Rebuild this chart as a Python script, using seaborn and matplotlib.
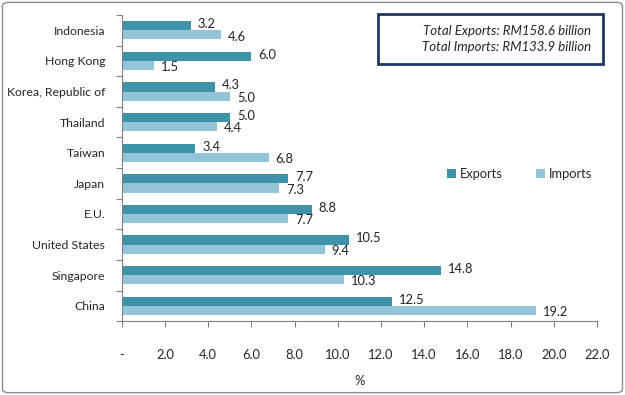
import numpy as np
import pandas as pd
import seaborn as sns
import matplotlib.pyplot as plt
from matplotlib.patches import FancyBboxPatch, Rectangle
from matplotlib.ticker import FixedLocator

countries = ["Indonesia", "Hong Kong", "Korea, Republic of", "Thailand", "Taiwan",
             "Japan", "E.U.", "United States", "Singapore", "China"]
exports = [3.2, 6.0, 4.3, 5.0, 3.4, 7.7, 8.8, 10.5, 14.8, 12.5]
imports = [4.6, 1.5, 5.0, 4.4, 6.8, 7.3, 7.7, 9.4, 10.3, 19.2]
x_ticks = [0, 2, 4, 6, 8, 10, 12, 14, 16, 18, 20, 22]

df = pd.DataFrame({
    "country": countries * 2,
    "share": exports + imports,
    "flow": ["Exports"] * len(countries) + ["Imports"] * len(countries),
})

sns.set_theme(style="white")
plt.rcParams['font.family'] = ['Lato', 'DejaVu Sans']

fig = plt.figure(figsize=(6.25, 3.95), dpi=100)
ax = fig.add_axes([0.195, 0.187, 0.76, 0.775])

sns.barplot(data=df, y="country", x="share", hue="flow", orient="h",
            palette={"Exports": "#3E93A8", "Imports": "#93C4D7"},
            width=0.6, saturation=1, linewidth=0, ax=ax, order=countries)

# nudge export labels up and import labels down a little so they don't collide
for cont, dy in zip(ax.containers, [1.2, -1.2]):
    for t in ax.bar_label(cont, fmt="%.1f", padding=5, fontsize=9.3, color="#222222"):
        t.xyann = (5, dy)

ax.set_xlim(0, 22)
ax.set_xticks(x_ticks)
ax.set_xticklabels(["-"] + [f"{v:.1f}" for v in x_ticks[1:]], fontsize=9.3)
ax.tick_params(axis="x", pad=16, length=4, width=0.8, color="#808080", direction="out", bottom=True)
ax.tick_params(axis="y", length=0, labelsize=8.8, pad=12)
ax.yaxis.set_minor_locator(FixedLocator(np.arange(-0.5, len(countries), 1)))
ax.tick_params(axis="y", which="minor", length=4, width=0.8, color="#808080", left=True)
ax.set_xlabel("%", fontsize=9.3, labelpad=10)
ax.set_ylabel("")

for side in ["top", "right"]:
    ax.spines[side].set_visible(False)
for side in ["left", "bottom"]:
    ax.spines[side].set_color("#808080")
    ax.spines[side].set_linewidth(0.8)

ax.legend(loc="center left", bbox_to_anchor=(0.66, 0.48), ncol=2, frameon=False,
          fontsize=9.3, handlelength=0.7, handleheight=0.7, columnspacing=2.6,
          handletextpad=0.3)

# summary box
fig.patches.append(Rectangle((0.605, 0.838), 0.36, 0.127, transform=fig.transFigure,
                             facecolor="white", edgecolor="#1F3864", linewidth=2))
fig.text(0.945, 0.901, "Total Exports: RM158.6 billion\nTotal Imports: RM133.9 billion",
         ha="right", va="center", fontsize=9.5, style="italic", linespacing=1.35)

fig.patches.append(FancyBboxPatch((0.004, 0.006), 0.992, 0.988, boxstyle="round,pad=0,rounding_size=0.01",
                                  transform=fig.transFigure, facecolor="none",
                                  edgecolor="#8C8C8C", linewidth=1))

fig.savefig("out.png", dpi=100)
